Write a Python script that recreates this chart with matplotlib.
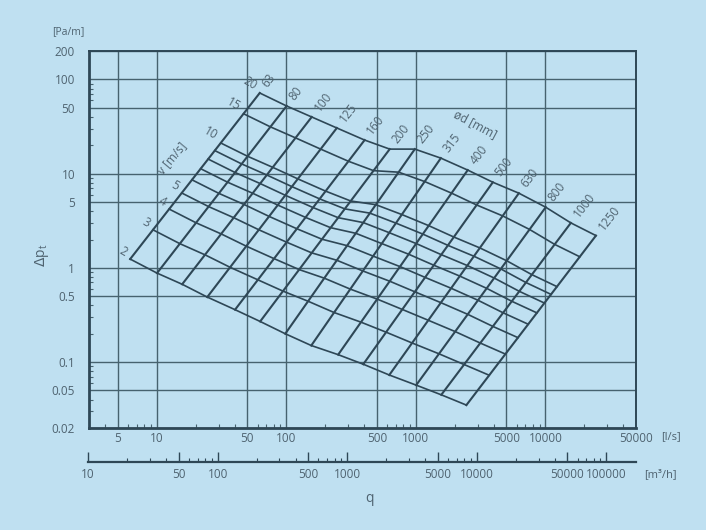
import numpy as np
import matplotlib.pyplot as plt
from matplotlib.ticker import FixedLocator, NullFormatter, LogLocator

plt.rcParams['font.family'] = ['Open Sans', 'DejaVu Sans']

# duct diameters [mm] with pressure drop [Pa/m] read at 2 m/s and at 20 m/s
diameters = [63, 80, 100, 125, 160, 200, 250, 315, 400, 500, 630, 800, 1000, 1250]
dp_at_2 = [1.24, 0.88, 0.67, 0.49, 0.36, 0.27, 0.20, 0.15, 0.12, 0.095, 0.073, 0.057, 0.045, 0.035]
dp_at_20 = [71.7, 52.2, 39.9, 30.5, 22.7, 18.2, 18.2, 14.6, 10.9, 8.1, 6.2, 4.4, 3.0, 2.2]
velocities = [2, 3, 4, 5, 6, 7, 8, 9, 10, 15, 20]
labelled_velocities = [2, 3, 4, 5, 10, 15, 20]

x_ticks = [5, 10, 50, 100, 500, 1000, 5000, 10000, 50000]
y_ticks = [0.02, 0.05, 0.1, 0.5, 1, 5, 10, 50, 100, 200]
m3h_ticks = [10, 50, 100, 500, 1000, 5000, 10000, 50000, 100000]

bg = '#bfe0f1'
ink = '#2e4756'
gridc = '#46626f'
txt = '#4f6370'


def flow(d, v):
    # l/s through a round duct of diameter d [mm] at velocity v [m/s]
    return v * np.pi * (d / 1000.0) ** 2 / 4 * 1000


def on_duct_line(i, v):
    # point of the straight (log-log) diameter line i at velocity v
    d = diameters[i]
    q2, q20 = flow(d, 2), flow(d, 20)
    q = flow(d, v)
    t = (np.log10(q) - np.log10(q2)) / (np.log10(q20) - np.log10(q2))
    dp = 10 ** (np.log10(dp_at_2[i]) + t * (np.log10(dp_at_20[i]) - np.log10(dp_at_2[i])))
    return q, dp


fig = plt.figure(figsize=(7.06, 5.30), dpi=100, facecolor=bg)
ax = fig.add_axes([89 / 706, 1 - 428 / 530, (636 - 89) / 706, (428 - 51) / 530])
ax.set_facecolor(bg)
ax.set_xscale('log')
ax.set_yscale('log')
ax.set_xlim(3, 50000)
ax.set_ylim(0.02, 200)

ax.xaxis.set_major_locator(FixedLocator(x_ticks))
ax.yaxis.set_major_locator(FixedLocator(y_ticks))
ax.set_xticklabels([str(t) for t in x_ticks])
ax.set_yticklabels([('%g' % t) for t in y_ticks])
ax.xaxis.set_minor_locator(LogLocator(subs=np.arange(2, 10)))
ax.yaxis.set_minor_locator(LogLocator(subs=np.arange(2, 10)))
ax.xaxis.set_minor_formatter(NullFormatter())
ax.yaxis.set_minor_formatter(NullFormatter())
ax.tick_params(which='major', length=0, labelsize=8.5, colors=txt)
ax.tick_params(axis='x', which='major', pad=3)
ax.tick_params(axis='y', which='major', pad=10)
ax.tick_params(which='minor', direction='in', length=3, width=0.8, color=gridc)
ax.grid(True, which='major', color=gridc, lw=1.0)

for side in ['left', 'bottom']:
    ax.spines[side].set_linewidth(2.0)
    ax.spines[side].set_color(ink)
for side in ['top', 'right']:
    ax.spines[side].set_linewidth(1.4)
    ax.spines[side].set_color(ink)

# diameter lines
for i, d in enumerate(diameters):
    q_a, p_a = on_duct_line(i, velocities[0])
    q_b, p_b = on_duct_line(i, velocities[-1])
    ax.plot([q_a, q_b], [p_a, p_b], color=ink, lw=1.5, zorder=3)
    ax.annotate(str(d), (q_b, p_b), xytext=(5, 7), textcoords='offset pixels',
                rotation=52, rotation_mode='anchor', ha='left', va='center',
                fontsize=8.5, color=txt)

# velocity lines
for v in velocities:
    pts = [on_duct_line(i, v) for i in range(len(diameters))]
    ax.plot([p[0] for p in pts], [p[1] for p in pts], color=ink, lw=1.2, zorder=3)
    if v in labelled_velocities:
        q0, p0 = pts[0]
        ax.annotate(str(v), (q0, p0), xytext=(-4, 6), textcoords='offset pixels',
                    rotation=-30, rotation_mode='anchor', ha='right', va='center',
                    fontsize=8.5, color=txt)

fig.text(172 / 706, 1 - 158 / 530, 'v [m/s]', rotation=50, ha='center', va='center',
         fontsize=8.5, color=txt)
fig.text(475 / 706, 1 - 124 / 530, 'ød [mm]', rotation=-28, ha='center', va='center',
         fontsize=8.5, color=txt)

fig.text(68 / 706, 1 - 32 / 530, '[Pa/m]', ha='center', va='center', fontsize=7.5, color=txt)
fig.text(671 / 706, 1 - 437 / 530, '[l/s]', ha='center', va='center', fontsize=8, color=txt)
fig.text(660 / 706, 1 - 475 / 530, '[m³/h]', ha='center', va='center', fontsize=8, color=txt)
fig.text(370 / 706, 1 - 498 / 530, 'q', ha='center', va='center', fontsize=10, color=txt)
fig.text(42 / 706, 1 - 255 / 530, r'$\Delta$p$_\mathregular{t}$', rotation=90,
         ha='center', va='center', fontsize=10, color=txt)

# second flow scale in m3/h
ax2 = fig.add_axes([88 / 706, 1 - 462 / 530, (636 - 88) / 706, 0.0001])
ax2.patch.set_visible(False)
ax2.set_xscale('log')
ax2.set_xlim(10, 10 ** (1 + (636 - 88) / 129.6))
for side in ['left', 'right', 'top']:
    ax2.spines[side].set_visible(False)
ax2.spines['bottom'].set_linewidth(1.6)
ax2.spines['bottom'].set_color(ink)
ax2.set_yticks([])
ax2.xaxis.set_major_locator(FixedLocator(m3h_ticks))
ax2.set_xticklabels([str(t) for t in m3h_ticks])
ax2.xaxis.set_minor_locator(LogLocator(subs=np.arange(2, 10)))
ax2.xaxis.set_minor_formatter(NullFormatter())
ax2.tick_params(which='major', direction='in', length=7, width=1.0, color=ink,
                labelsize=8.5, labelcolor=txt, pad=4)
ax2.tick_params(which='minor', direction='in', length=3, width=0.8, color=ink)

fig.savefig('out.png', dpi=100, facecolor=bg)
